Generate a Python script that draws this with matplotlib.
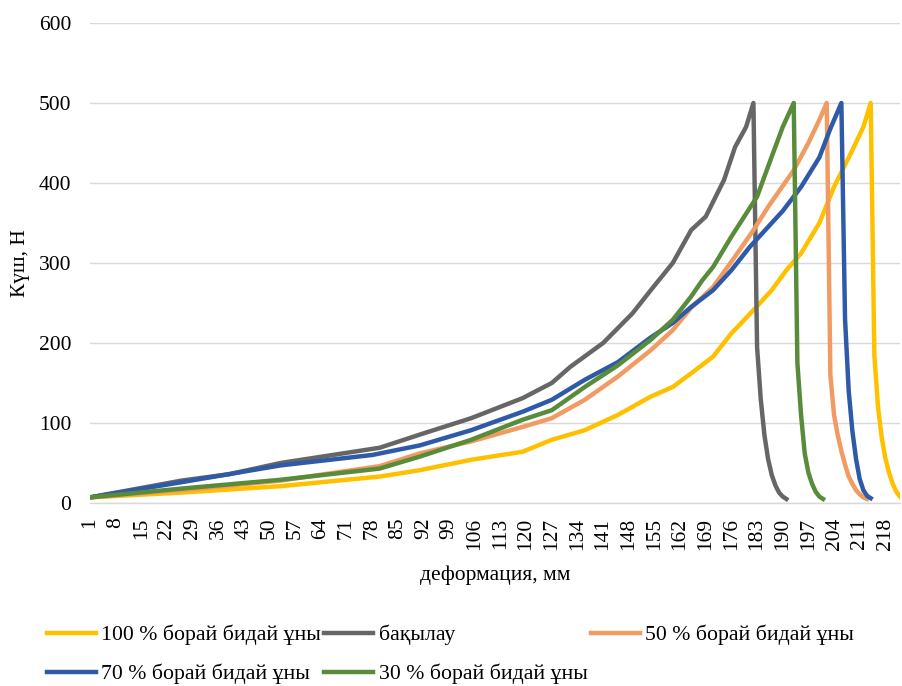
import numpy as np
import matplotlib
matplotlib.use("Agg")
import matplotlib.pyplot as plt

# ================================
#  Data
# ================================
# 100 % борай бидай ұны
x_100 = [1, 26, 53, 80, 91, 105, 119, 127, 136, 145, 154, 160, 165, 171, 176, 182, 187, 191, 195,
         200, 204, 209, 212, 214, 215, 216, 217, 218, 219, 220, 221, 222]
y_100 = [7, 13, 21, 33, 41, 54, 64, 79, 91, 110, 133, 145, 162, 183, 212, 241, 266, 291, 312,
         350, 395, 441, 470, 500, 185, 120, 82, 56, 38, 24, 14, 8]

# бақылау
x_ctrl = [1, 26, 39, 53, 80, 92, 105, 119, 127, 132, 141, 149, 154, 160, 165, 169, 174, 177, 180, 182,
          183, 184, 185, 186, 187, 188, 189, 190, 191]
y_ctrl = [7, 28, 36, 50, 69, 87, 106, 131, 150, 170, 200, 237, 266, 300, 341, 358, 404, 445, 470, 500,
          195, 130, 85, 55, 35, 22, 13, 8, 5]

# 50 % борай бидай ұны
x_50 = [1, 26, 53, 80, 91, 105, 119, 127, 136, 145, 154, 160, 165, 171, 177, 182, 186, 193, 197,
        200, 202, 203, 204, 205, 206, 207, 208, 209, 210, 211, 212, 213]
y_50 = [7, 16, 28, 46, 62, 77, 95, 106, 129, 158, 191, 216, 244, 270, 308, 341, 370, 416, 450,
        479, 500, 160, 110, 85, 65, 48, 33, 24, 16, 11, 7, 5]

# 70 % борай бидай ұны
x_70 = [1, 26, 53, 78, 91, 105, 119, 127, 136, 145, 154, 160, 165, 171, 176, 181, 190, 195, 200,
        203, 206, 207, 208, 209, 210, 211, 212, 213, 214]
y_70 = [7, 26, 47, 60, 72, 91, 114, 129, 154, 176, 207, 225, 245, 266, 291, 320, 365, 395, 432,
        468, 500, 230, 140, 90, 55, 30, 16, 9, 6]

# 30 % борай бидай ұны
x_30 = [1, 26, 53, 80, 91, 105, 119, 127, 136, 145, 154, 160, 165, 168, 171, 176, 183, 187, 190,
        193, 194, 195, 196, 197, 198, 199, 200, 201]
y_30 = [7, 18, 29, 43, 58, 79, 104, 116, 145, 172, 204, 229, 258, 278, 295, 333, 383, 433, 470,
        500, 175, 110, 62, 38, 24, 14, 8, 5]

xticks = np.arange(1, 222, 7)

# ================================
#  Plot settings
# ================================
plt.rcParams.update({
    "font.family": ["Liberation Serif", "DejaVu Serif"],
    "font.size": 15.5,
})

fig = plt.figure(figsize=(9.02, 6.86), dpi=100)
ax = fig.add_axes([0.0998, 0.2668, 0.898, 0.6997])

lw = 3.2
ax.plot(x_100, y_100, color="#FFC000", lw=lw, label="100 % борай бидай ұны")
ax.plot(x_ctrl, y_ctrl, color="#666666", lw=lw, label="бақылау")
ax.plot(x_50, y_50, color="#F19B62", lw=lw, label="50 % борай бидай ұны")
ax.plot(x_70, y_70, color="#2E5AA8", lw=lw, label="70 % борай бидай ұны")
ax.plot(x_30, y_30, color="#588C3A", lw=lw, label="30 % борай бидай ұны")

ax.set_xlim(1, 222)
ax.set_ylim(0, 600)
ax.set_yticks(np.arange(0, 601, 100))
ax.set_xticks(xticks)
ax.set_xticklabels([str(t) for t in xticks], rotation=90)
ax.tick_params(axis="both", length=0, labelsize=15.5)
ax.tick_params(axis="y", pad=13.5)
ax.tick_params(axis="x", pad=10.5)

ax.grid(True, axis="y", color="#D9D9D9", lw=1)
ax.set_axisbelow(True)
for s in ["top", "right", "left"]:
    ax.spines[s].set_visible(False)
ax.spines["bottom"].set_color("#D9D9D9")
ax.spines["bottom"].set_linewidth(1)

ax.set_xlabel("деформация, мм", fontsize=15.5, labelpad=11)
ax.set_ylabel("Күш, Н", fontsize=15.5, labelpad=6)

h, l = ax.get_legend_handles_labels()
order = [0, 3, 1, 4, 2]
fig.legend([h[i] for i in order], [l[i] for i in order], ncol=3, frameon=False,
           loc="upper left", bbox_to_anchor=(0.0517, 0.089), fontsize=15.7,
           handlelength=2.25, handletextpad=0.25, columnspacing=0.15, labelspacing=0.85,
           borderaxespad=0, borderpad=0)

fig.savefig("out.png", dpi=100)
